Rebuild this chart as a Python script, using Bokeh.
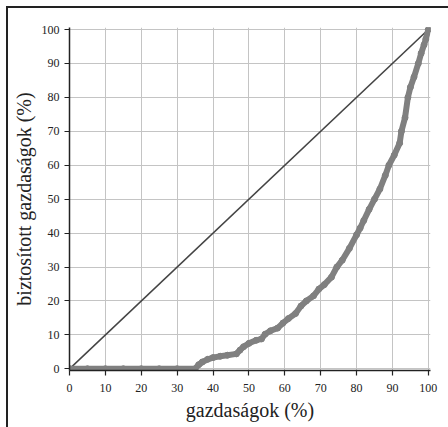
from bokeh.plotting import figure
from bokeh.models import Range1d, FixedTicker
from bokeh.embed import file_html
from bokeh.resources import INLINE

# Lorenz curve data
share_farms = [0, 5, 10, 15, 20, 25, 30, 35, 36, 37, 38.5, 40, 42, 44, 46.5, 47.5, 48.5, 50,
               52, 53.5, 54.5, 56, 58, 59.5, 61, 63, 64.5, 66, 68, 69.5, 71, 73, 74.5, 76,
               78, 80, 81, 82, 83.5, 85, 86.5, 88, 89, 90.5, 92, 92.5, 93.5, 94.3, 95, 96,
               97.2, 98, 98.8, 99.3, 100]
share_insured = [0, 0, 0, 0, 0, 0, 0, 0, 1.2, 2.0, 2.8, 3.3, 3.7, 4.0, 4.4, 5.5, 6.5, 7.5,
                 8.4, 8.8, 10.2, 11.2, 12, 13.5, 14.8, 16.3, 18.5, 20, 21.5, 23.5, 24.8, 27, 30, 32,
                 35.5, 39.5, 41.5, 43.7, 47, 50, 53, 57, 60, 63, 66.5, 70, 74, 80, 83, 86,
                 90, 93, 95.5, 97.2, 100]
equality_x = [0, 100]
equality_y = [0, 100]
ticks = [0, 10, 20, 30, 40, 50, 60, 70, 80, 90, 100]

SERIF = "Liberation Serif"

frame_bg = ("linear-gradient(#222,#222) 6px 6px / 100% 2px no-repeat, "
            "linear-gradient(#222,#222) 6px 6px / 2px 100% no-repeat, #ffffff")

p = figure(width=448, height=427, output_backend="svg", toolbar_location=None,
           x_range=Range1d(0, 100.6), y_range=Range1d(-0.5, 100.6),
           min_border_left=69, min_border_right=18, min_border_top=27, min_border_bottom=57,
           styles={"background": frame_bg})

p.outline_line_color = None
p.background_fill_color = "white"
p.border_fill_color = None

for ax in (p.xaxis[0], p.yaxis[0]):
    ax.ticker = FixedTicker(ticks=ticks)
    ax.axis_line_color = "#222222"
    ax.axis_line_width = 1.5
    ax.major_tick_line_color = "#222222"
    ax.major_tick_line_width = 1.2
    ax.major_tick_out = 5
    ax.major_tick_in = 0
    ax.minor_tick_line_color = None
    ax.major_label_text_font = SERIF
    ax.major_label_text_font_size = "12px"
    ax.major_label_text_color = "#222222"
    ax.axis_label_text_font = SERIF
    ax.axis_label_text_font_size = "20px"
    ax.axis_label_text_font_style = "normal"
    ax.axis_label_text_color = "#222222"

p.xaxis.axis_label = "gazdaságok (%)"
p.yaxis.axis_label = "biztosított gazdaságok (%)"
p.xaxis.major_label_standoff = 8
p.yaxis.major_label_standoff = 5
p.xaxis.axis_label_standoff = 4
p.yaxis.axis_label_standoff = 4

for g in (p.xgrid[0], p.ygrid[0]):
    g.ticker = FixedTicker(ticks=ticks)
    g.grid_line_color = "#c4c4c4"
    g.grid_line_width = 1

# equality line
p.line(equality_x, equality_y, line_color="#444444", line_width=1.6)
p.scatter(equality_x, equality_y, size=6, color="#808080")

# Lorenz curve
p.line(share_farms, share_insured, line_color="#808080", line_width=6, line_join="round", line_cap="round")
p.scatter(share_farms, share_insured, size=6, color="#808080")

open("out.html", "w").write(file_html(p, INLINE))
